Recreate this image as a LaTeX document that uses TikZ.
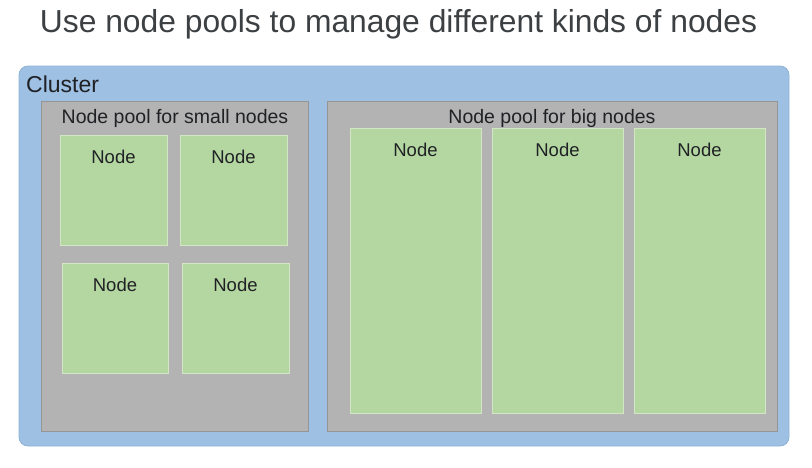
\documentclass[tikz,border=0pt]{standalone}
\usepackage{fontspec}
\setmainfont{Liberation Sans}
\definecolor{clusterblue}{HTML}{9DC0E3}
\definecolor{clusteredge}{HTML}{8FB3D8}
\definecolor{poolgray}{HTML}{B3B3B3}
\definecolor{pooledge}{HTML}{959595}
\definecolor{nodegreen}{HTML}{B4D7A2}
\definecolor{nodeedge}{HTML}{D2E6C6}
\definecolor{txt}{HTML}{202124}
\definecolor{titletxt}{HTML}{3C4043}
\begin{document}
\begin{tikzpicture}[x=1pt,y=-1pt,
  clusterbox/.style={fill=clusterblue,draw=clusteredge,line width=0.8pt,rounded corners=9pt},
  poolbox/.style={fill=poolgray,draw=pooledge,line width=1pt},
  nodebox/.style={fill=nodegreen,draw=nodeedge,line width=1pt},
  lbl/.style={inner sep=0pt,text=txt,anchor=center},
  nodelbl/.style={lbl,font=\fontsize{18.5}{20}\selectfont}]
\useasboundingbox (0,0) rectangle (812,467);
\node[lbl,text=titletxt,font=\fontsize{31.8}{34}\selectfont] (title) at (398.5,24) {Use node pools to manage different kinds of nodes};
\draw[clusterbox] (19,66) rectangle (789,446);
\node[lbl,anchor=west,font=\fontsize{23}{26}\selectfont] (cluster) at (26,84) {Cluster};
% small pool
\draw[poolbox] (41,101) rectangle (308,431);
\node[lbl,font=\fontsize{19.5}{22}\selectfont] (smallpool) at (175,118) {Node pool for small nodes};
\draw[nodebox] (60,135) rectangle (167,245);
\node[nodelbl] (s1) at (113.5,157) {Node};
\draw[nodebox] (180,135) rectangle (287,245);
\node[nodelbl] (s2) at (233.5,157) {Node};
\draw[nodebox] (62,263) rectangle (168,373);
\node[nodelbl] (s3) at (115,285) {Node};
\draw[nodebox] (182,263) rectangle (289,373);
\node[nodelbl] (s4) at (235.5,285) {Node};
% big pool
\draw[poolbox] (327,101) rectangle (777,431);
\node[lbl,font=\fontsize{19.5}{22}\selectfont] (bigpool) at (552,118) {Node pool for big nodes};
\draw[nodebox] (350,128) rectangle (481,413);
\node[nodelbl] (b1) at (415.5,150) {Node};
\draw[nodebox] (492,128) rectangle (623,413);
\node[nodelbl] (b2) at (557.5,150) {Node};
\draw[nodebox] (634,128) rectangle (765,413);
\node[nodelbl] (b3) at (699.5,150) {Node};
\end{tikzpicture}
\end{document}
